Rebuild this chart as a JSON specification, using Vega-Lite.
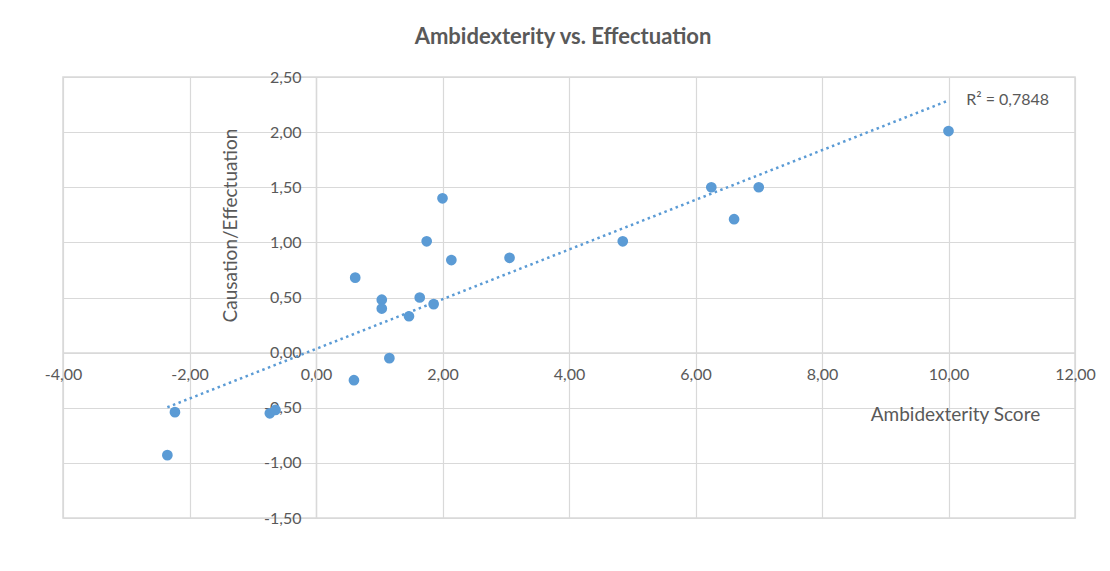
{
  "$schema": "https://vega.github.io/schema/vega-lite/v6.json",
  "autosize": {"type": "none"},
  "padding": {"left": 63, "top": 77, "right": 35, "bottom": 53},
  "width": 1012,
  "height": 441,
  "background": "white",
  "title": {
    "text": "Ambidexterity vs. Effectuation",
    "frame": "group",
    "anchor": "middle",
    "offset": 20,
    "dx": -6,
    "font": "Lato",
    "fontSize": 22,
    "fontWeight": "bold",
    "color": "#595959"
  },
  "data": {
    "values": [
      {"x": -2.23, "y": -0.54},
      {"x": -2.35, "y": -0.93},
      {"x": -0.73, "y": -0.55},
      {"x": -0.64, "y": -0.52},
      {"x": 0.60, "y": -0.25},
      {"x": 1.16, "y": -0.05},
      {"x": 2.00, "y": 1.40},
      {"x": 1.75, "y": 1.01},
      {"x": 2.14, "y": 0.84},
      {"x": 3.06, "y": 0.86},
      {"x": 0.62, "y": 0.68},
      {"x": 1.04, "y": 0.48},
      {"x": 1.04, "y": 0.40},
      {"x": 1.64, "y": 0.50},
      {"x": 1.86, "y": 0.44},
      {"x": 1.47, "y": 0.33},
      {"x": 10.00, "y": 2.01},
      {"x": 6.25, "y": 1.50},
      {"x": 7.00, "y": 1.50},
      {"x": 6.61, "y": 1.21},
      {"x": 4.85, "y": 1.01}
    ]
  },
  "encoding": {
    "x": {
      "field": "x",
      "type": "quantitative",
      "scale": {"domain": [-4, 12], "nice": false, "zero": false},
      "axis": {
        "orient": "bottom",
        "offset": -165.4,
        "values": [-4, -2, 0, 2, 4, 6, 8, 10, 12],
        "format": ".2f",
        "title": "Ambidexterity Score",
        "titleX": 892,
        "titleY": 62,
        "titleAlign": "center",
        "titleBaseline": "middle",
        "titleFont": "Lato",
        "titleFontSize": 19,
        "titleFontWeight": "normal",
        "titleColor": "#595959",
        "labelFont": "Lato",
        "labelFontSize": 16,
        "labelColor": "#595959",
        "labelPadding": 14,
        "labelFlush": false,
        "labelOverlap": false,
        "ticks": false,
        "domain": true,
        "domainColor": "#d9d9d9",
        "domainWidth": 1.5,
        "grid": true,
        "gridColor": "#d9d9d9",
        "gridWidth": 1.2
      }
    },
    "y": {
      "field": "y",
      "type": "quantitative",
      "scale": {"domain": [-1.5, 2.5], "nice": false, "zero": false},
      "axis": {
        "orient": "left",
        "offset": -253,
        "values": [-1.5, -1, -0.5, 0, 0.5, 1, 1.5, 2, 2.5],
        "format": ".2f",
        "title": "Causation/Effectuation",
        "titleX": -86,
        "titleY": 148,
        "titleAngle": -90,
        "titleAlign": "center",
        "titleBaseline": "middle",
        "titleFont": "Lato",
        "titleFontSize": 19,
        "titleFontWeight": "normal",
        "titleColor": "#595959",
        "labelFont": "Lato",
        "labelFontSize": 16,
        "labelColor": "#595959",
        "labelPadding": 15,
        "labelFlush": false,
        "labelOverlap": false,
        "ticks": false,
        "domain": true,
        "domainColor": "#d9d9d9",
        "domainWidth": 1.5,
        "grid": true,
        "gridColor": "#d9d9d9",
        "gridWidth": 1.2
      }
    }
  },
  "layer": [
    {
      "transform": [{"regression": "y", "on": "x"}],
      "mark": {
        "type": "line",
        "color": "#5b9bd5",
        "strokeWidth": 2.5,
        "strokeDash": [2.5, 3.5],
        "strokeCap": "butt"
      }
    },
    {
      "mark": {
        "type": "circle",
        "color": "#5b9bd5",
        "opacity": 1,
        "size": 115
      }
    },
    {
      "transform": [{"filter": "datum.x == 10"}],
      "mark": {
        "type": "text",
        "text": "R² = 0,7848",
        "align": "left",
        "baseline": "middle",
        "font": "Lato",
        "fontSize": 16,
        "color": "#595959"
      },
      "encoding": {
        "x": {"datum": 10.28},
        "y": {"datum": 2.29}
      }
    }
  ],
  "config": {
    "locale": {
      "number": {
        "decimal": ",",
        "thousands": ".",
        "grouping": [3],
        "currency": ["", " €"],
        "minus": "-"
      }
    },
    "view": {"stroke": "#d9d9d9", "strokeWidth": 1.5}
  }
}
